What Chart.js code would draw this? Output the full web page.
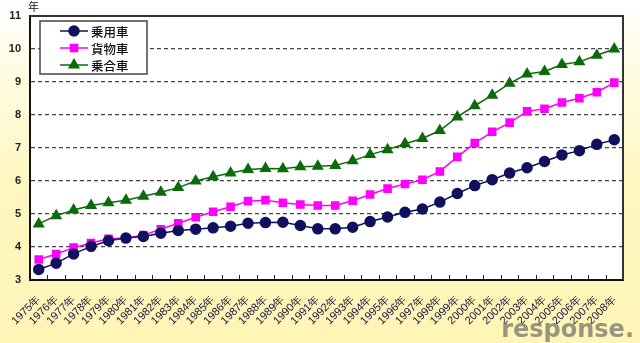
<!DOCTYPE html>
<html>
<head>
<meta charset="utf-8">
<script src="https://cdn.jsdelivr.net/npm/chart.js@4/dist/chart.umd.min.js"></script>
<style>
  html, body { margin: 0; padding: 0; }
  body { width: 640px; height: 343px; overflow: hidden;
         background: linear-gradient(to bottom, #ffffff 0px, #fffbe0 80px, #fff7c2 180px, #fff5b6 343px); }
  #wrap { position: relative; width: 640px; height: 343px; }
  canvas { display: block; }
</style>
</head>
<body>
<div id="wrap"><canvas id="c" width="640" height="343"></canvas></div>
<script>
// 平均使用年数の推移（年）
const years = [1975,1976,1977,1978,1979,1980,1981,1982,1983,1984,1985,1986,1987,1988,1989,1990,1991,1992,1993,1994,1995,1996,1997,1998,1999,2000,2001,2002,2003,2004,2005,2006,2007,2008];
const categories = years.map(y => y + '年');

const seriesNames = ['乗用車', '貨物車', '乗合車'];

const passengerCars = [3.32,3.51,3.79,4.02,4.19,4.27,4.32,4.42,4.50,4.54,4.58,4.63,4.72,4.74,4.75,4.65,4.55,4.55,4.60,4.77,4.91,5.05,5.15,5.36,5.62,5.86,6.04,6.24,6.40,6.59,6.79,6.92,7.11,7.25];
const trucks        = [3.62,3.79,3.98,4.12,4.25,4.27,4.36,4.54,4.72,4.90,5.07,5.22,5.39,5.42,5.34,5.29,5.26,5.26,5.40,5.59,5.77,5.91,6.04,6.29,6.73,7.15,7.49,7.77,8.11,8.19,8.38,8.51,8.69,8.98];
const buses         = [4.70,4.95,5.12,5.26,5.34,5.42,5.54,5.66,5.80,6.00,6.13,6.24,6.35,6.38,6.37,6.43,6.45,6.47,6.61,6.80,6.95,7.13,7.29,7.53,7.94,8.28,8.60,8.96,9.24,9.32,9.53,9.61,9.81,10.00];

const yTicks = [3, 4, 5, 6, 7, 8, 9, 10, 11];

// plot frame, inward category ticks, unit label, legend box
const framePlugin = {
  id: 'frame',
  beforeDraw(chart) {
    const { ctx, chartArea: a } = chart;
    ctx.save();
    ctx.fillStyle = '#ffffff';
    ctx.fillRect(a.left, a.top, a.right - a.left, a.bottom - a.top);
    ctx.restore();
  },
  afterDatasetsDraw(chart) {
    const { ctx, chartArea: a } = chart;
    const xs = chart.scales.x;
    ctx.save();
    // top and right frame
    ctx.strokeStyle = '#333333';
    ctx.lineWidth = 2;
    ctx.beginPath();
    ctx.moveTo(a.left, a.top);
    ctx.lineTo(a.right, a.top);
    ctx.lineTo(a.right, a.bottom);
    ctx.stroke();
    // inward tick marks at category boundaries
    ctx.strokeStyle = '#222222';
    ctx.lineWidth = 1;
    const half = (xs.getPixelForValue(1) - xs.getPixelForValue(0)) / 2;
    ctx.beginPath();
    for (let i = 1; i < categories.length; i++) {
      const x = Math.round(xs.getPixelForValue(i) - half) + 0.5;
      ctx.moveTo(x, a.bottom);
      ctx.lineTo(x, a.bottom - 5);
    }
    ctx.stroke();
    // unit
    ctx.fillStyle = '#111111';
    ctx.font = '11px "Noto Sans CJK JP"';
    ctx.textAlign = 'left';
    ctx.textBaseline = 'middle';
    ctx.fillText('年', a.left - 2, 7);

    // legend
    const bx = 40, by = 21, bw = 107, bh = 53;
    ctx.fillStyle = '#ffffff';
    ctx.fillRect(bx, by, bw, bh);
    ctx.strokeStyle = '#444444';
    ctx.lineWidth = 1.5;
    ctx.strokeRect(bx, by, bw, bh);
    chart.data.datasets.forEach((ds, i) => {
      const y = by + 10 + i * 17;
      ctx.strokeStyle = ds.borderColor;
      ctx.lineWidth = 1.5;
      ctx.beginPath();
      ctx.moveTo(60, y);
      ctx.lineTo(88, y);
      ctx.stroke();
      ctx.fillStyle = ds.pointBackgroundColor;
      ctx.strokeStyle = ds.pointBorderColor;
      Chart.helpers.drawPoint(ctx, { pointStyle: ds.pointStyle, rotation: 0, borderWidth: 1, radius: ds.pointRadius }, 74, y);
      ctx.fillStyle = '#111111';
      ctx.font = '500 12.5px "Noto Sans CJK JP"';
      ctx.textAlign = 'left';
      ctx.textBaseline = 'middle';
      ctx.fillText(ds.label, 91, y + 1);
    });

    // watermark
    ctx.fillStyle = 'rgba(125,125,115,0.8)';
    ctx.font = 'bold 24px "DejaVu Sans"';
    ctx.textAlign = 'right';
    ctx.textBaseline = 'alphabetic';
    ctx.fillText('response.', 634, 337);
    ctx.restore();
  }
};

new Chart(document.getElementById('c'), {
  type: 'line',
  data: {
    labels: categories,
    datasets: [
      { label: seriesNames[0], data: passengerCars, borderColor: '#10105e', backgroundColor: '#10105e',
        pointBackgroundColor: '#10105e', pointBorderColor: '#10105e', pointStyle: 'circle', pointRadius: 5, borderWidth: 1.5, tension: 0 },
      { label: seriesNames[1], data: trucks, borderColor: '#ff00ff', backgroundColor: '#ff00ff',
        pointBackgroundColor: '#ff00ff', pointBorderColor: '#ff00ff', pointStyle: 'rect', pointRadius: 5, borderWidth: 1.5, tension: 0 },
      { label: seriesNames[2], data: buses, borderColor: '#0b6b0b', backgroundColor: '#0b6b0b',
        pointBackgroundColor: '#0b6b0b', pointBorderColor: '#0b6b0b', pointStyle: 'triangle', pointRadius: 5.5, borderWidth: 1.5, tension: 0 }
    ]
  },
  options: {
    responsive: false,
    animation: false,
    devicePixelRatio: 1,
    layout: { padding: { top: 16, right: 17, left: 0, bottom: 0 } },
    plugins: { legend: { display: false }, tooltip: { enabled: false } },
    scales: {
      x: {
        offset: true,
        grid: { display: false, drawTicks: false },
        border: { display: true, color: '#111111', width: 2 },
        ticks: {
          autoSkip: false, minRotation: 45, maxRotation: 45, padding: 13,
          color: '#14143c', font: { size: 11, family: '"Liberation Sans", Arial' }
        },
        afterFit(s) { s.height = 63; }
      },
      y: {
        min: 3, max: 11,
        afterBuildTicks(s) { s.ticks = yTicks.map(v => ({ value: v })); },
        grid: {
          drawTicks: false,
          color: ctx => (ctx.tick && (ctx.tick.value === 3 || ctx.tick.value === 11)) ? 'rgba(0,0,0,0)' : '#444444',
          lineWidth: 1.2
        },
        border: { display: true, color: '#111111', width: 2, dash: [4, 3] },
        ticks: {
          padding: 9, color: '#222222',
          font: { size: 11, weight: 'bold', family: '"Liberation Sans", Arial' }
        },
        afterFit(s) { s.width = 30; }
      }
    }
  },
  plugins: [framePlugin]
});
</script>
</body>
</html>
